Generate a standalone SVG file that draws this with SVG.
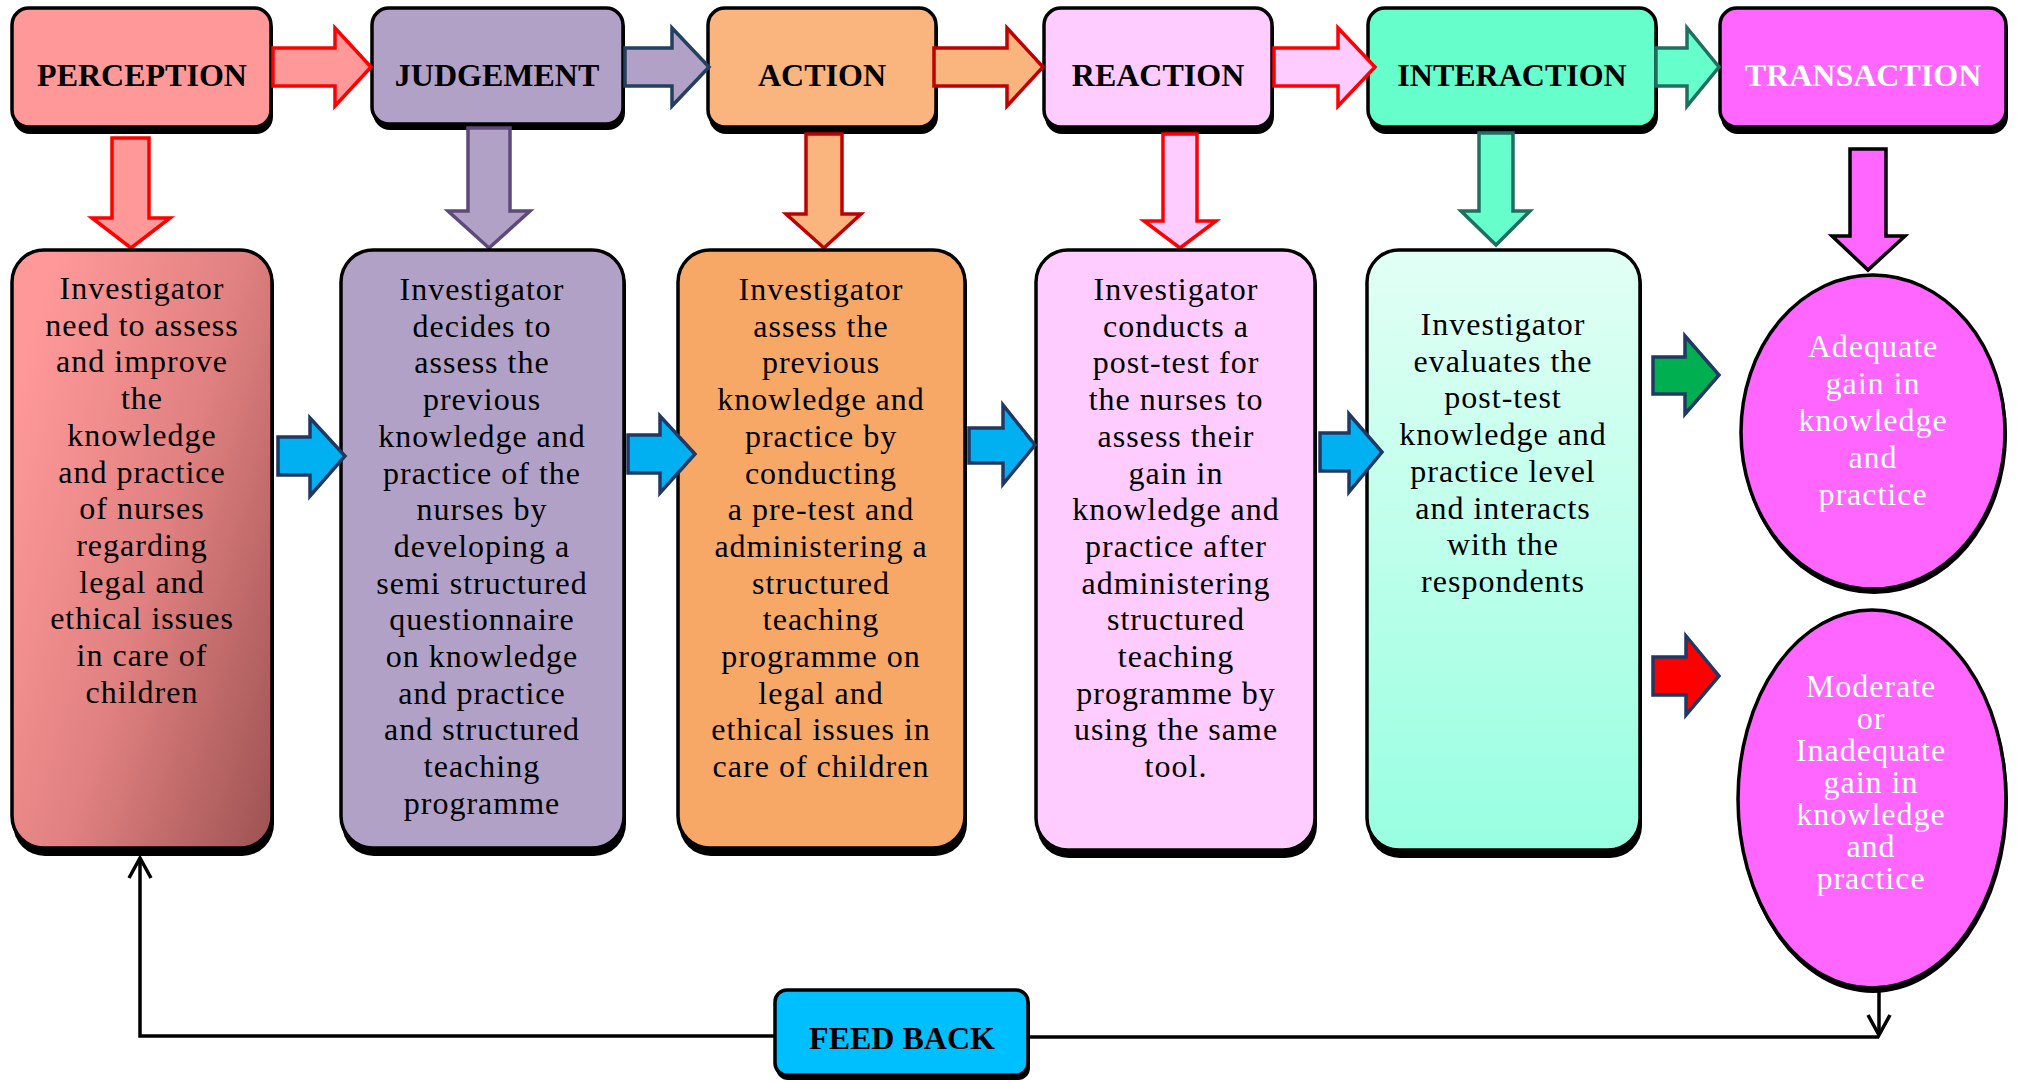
<svg xmlns="http://www.w3.org/2000/svg" width="2017" height="1082" viewBox="0 0 2017 1082">
<style>
.lbl{font-family:"Liberation Serif","Times New Roman",serif;font-weight:bold;font-size:32px;text-anchor:middle;fill:#000}
.body{font-family:"Liberation Serif","Times New Roman",serif;font-size:32px;letter-spacing:1px;text-anchor:middle;fill:#000}
.wt{fill:#fff}
.box{stroke:#000;stroke-width:3.5}
.shd{fill:#000}
.blue{fill:#00B0F0;stroke:#1F3864;stroke-width:3.5;stroke-linejoin:miter}
.conn{fill:none;stroke:#000;stroke-width:3.5}
</style>
<defs>
<linearGradient id="g1" x1="0" y1="0.25" x2="1" y2="0.95">
<stop offset="0" stop-color="#FF9999"/>
<stop offset="0.5" stop-color="#E08080"/>
<stop offset="1" stop-color="#A05454"/>
</linearGradient>
<linearGradient id="g5" x1="0" y1="0" x2="0" y2="1">
<stop offset="0" stop-color="#E2FFF5"/>
<stop offset="1" stop-color="#98FFE0"/>
</linearGradient>
<marker id="open" markerUnits="userSpaceOnUse" markerWidth="30" markerHeight="30" viewBox="0 0 30 30" refX="27" refY="15" orient="auto">
<path d="M7,4 L27,15 L7,26" fill="none" stroke="#000" stroke-width="3.5"/>
</marker>
</defs>

<g id="connectors">
<path class="conn" d="M775,1036 H140 V858" marker-end="url(#open)"/>
<path class="conn" d="M1029,1037 H1879"/>
<path class="conn" d="M1879,992 V1035" marker-end="url(#open)"/>
</g>

<g id="perception">
<rect class="shd" x="13" y="13" width="260" height="121" rx="17"/>
<rect class="box" x="12" y="8" width="259" height="119" rx="17" fill="#FF9999"/>
<text class="lbl" x="142" y="86">PERCEPTION</text>
</g>
<g id="judgement">
<rect class="shd" x="373" y="12" width="252" height="118" rx="17"/>
<rect class="box" x="372" y="8" width="251" height="116" rx="17" fill="#B2A1C7"/>
<text class="lbl" x="497" y="86">JUDGEMENT</text>
</g>
<g id="action">
<rect class="shd" x="709" y="13" width="229" height="121" rx="17"/>
<rect class="box" x="708" y="8" width="228" height="119" rx="17" fill="#F9B57D"/>
<text class="lbl" x="822" y="86">ACTION</text>
</g>
<g id="reaction">
<rect class="shd" x="1045" y="13" width="229" height="121" rx="17"/>
<rect class="box" x="1044" y="8" width="228" height="119" rx="17" fill="#FFCCFF"/>
<text class="lbl" x="1158" y="86">REACTION</text>
</g>
<g id="interaction">
<rect class="shd" x="1369" y="13" width="289" height="121" rx="17"/>
<rect class="box" x="1368" y="8" width="288" height="119" rx="17" fill="#66FFCC"/>
<text class="lbl" x="1512" y="86">INTERACTION</text>
</g>
<g id="transaction">
<rect class="shd" x="1721" y="13" width="287" height="121" rx="17"/>
<rect class="box" x="1720" y="8" width="286" height="119" rx="17" fill="#FF66FF"/>
<text class="lbl wt" x="1863" y="86">TRANSACTION</text>
</g>

<g id="top-arrows">
<polygon points="273,48 335,48 335,28 371,67 335,106 335,86 273,86" fill="#FF9999" stroke="#FF0000" stroke-width="3.5"/>
<polygon points="625,48 672,48 672,28 709,67 672,106 672,86 625,86" fill="#B2A1C7" stroke="#243F60" stroke-width="3.5"/>
<polygon points="934,48 1007,48 1007,28 1043,67 1007,106 1007,86 934,86" fill="#F9B57D" stroke="#C00000" stroke-width="3.5"/>
<polygon points="1274,48 1338,48 1338,28 1375,67 1338,106 1338,86 1274,86" fill="#FFCCFF" stroke="#FF0000" stroke-width="3.5"/>
<polygon points="1656,48 1687,48 1687,28 1719,67 1687,106 1687,86 1656,86" fill="#66FFCC" stroke="#1F7060" stroke-width="3.5"/>
</g>

<g id="down-arrows">
<polygon points="112,138 149,138 149,218 170,218 131,248 92,218 112,218" fill="#FF9999" stroke="#FF0000" stroke-width="3.5"/>
<polygon points="468,128 510,128 510,211 530,211 489,248 448,211 468,211" fill="#B2A1C7" stroke="#5F497A" stroke-width="3.5"/>
<polygon points="806,134 842,134 842,214 861,214 824,248 786,214 806,214" fill="#F9B57D" stroke="#C00000" stroke-width="3.5"/>
<polygon points="1163,134 1197,134 1197,221 1216,221 1180,248 1144,221 1163,221" fill="#FFCCFF" stroke="#FF0000" stroke-width="3.5"/>
<polygon points="1479,133 1513,133 1513,211 1530,211 1496,245 1461,211 1479,211" fill="#66FFCC" stroke="#1F7060" stroke-width="3.5"/>
<polygon points="1850,149 1886,149 1886,236 1905,236 1868,270 1832,236 1850,236" fill="#FF66FF" stroke="#000" stroke-width="3.5"/>
</g>

<g id="box1">
<rect class="shd" x="13" y="254" width="261" height="602" rx="32"/>
<rect class="box" x="12" y="250" width="260" height="598" rx="32" fill="url(#g1)"/>
<text class="body" x="142" y="299">Investigator</text>
<text class="body" x="142" y="335.7">need to assess</text>
<text class="body" x="142" y="372.4">and improve</text>
<text class="body" x="142" y="409.1">the</text>
<text class="body" x="142" y="445.8">knowledge</text>
<text class="body" x="142" y="482.5">and practice</text>
<text class="body" x="142" y="519.2">of nurses</text>
<text class="body" x="142" y="555.9">regarding</text>
<text class="body" x="142" y="592.6">legal and</text>
<text class="body" x="142" y="629.3">ethical issues</text>
<text class="body" x="142" y="666">in care of</text>
<text class="body" x="142" y="702.7">children</text>
</g>
<g id="box2">
<rect class="shd" x="342" y="254" width="284" height="602" rx="32"/>
<rect class="box" x="341" y="250" width="283" height="598" rx="32" fill="#B2A1C7"/>
<text class="body" x="482" y="300">Investigator</text>
<text class="body" x="482" y="336.7">decides to</text>
<text class="body" x="482" y="373.4">assess the</text>
<text class="body" x="482" y="410.1">previous</text>
<text class="body" x="482" y="446.8">knowledge and</text>
<text class="body" x="482" y="483.5">practice of the</text>
<text class="body" x="482" y="520.2">nurses by</text>
<text class="body" x="482" y="556.9">developing a</text>
<text class="body" x="482" y="593.6">semi structured</text>
<text class="body" x="482" y="630.3">questionnaire</text>
<text class="body" x="482" y="667">on knowledge</text>
<text class="body" x="482" y="703.7">and practice</text>
<text class="body" x="482" y="740.4">and structured</text>
<text class="body" x="482" y="777.1">teaching</text>
<text class="body" x="482" y="813.8">programme</text>
</g>
<g id="box3">
<rect class="shd" x="679" y="254" width="288" height="602" rx="32"/>
<rect class="box" x="678" y="250" width="287" height="598" rx="32" fill="#F7A866"/>
<text class="body" x="821" y="300">Investigator</text>
<text class="body" x="821" y="336.7">assess the</text>
<text class="body" x="821" y="373.4">previous</text>
<text class="body" x="821" y="410.1">knowledge and</text>
<text class="body" x="821" y="446.8">practice by</text>
<text class="body" x="821" y="483.5">conducting</text>
<text class="body" x="821" y="520.2">a pre-test and</text>
<text class="body" x="821" y="556.9">administering a</text>
<text class="body" x="821" y="593.6">structured</text>
<text class="body" x="821" y="630.3">teaching</text>
<text class="body" x="821" y="667">programme on</text>
<text class="body" x="821" y="703.7">legal and</text>
<text class="body" x="821" y="740.4">ethical issues in</text>
<text class="body" x="821" y="777.1">care of children</text>
</g>
<g id="box4">
<rect class="shd" x="1037" y="254" width="280" height="604" rx="32"/>
<rect class="box" x="1036" y="250" width="279" height="600" rx="32" fill="#FFCCFF"/>
<text class="body" x="1176" y="300">Investigator</text>
<text class="body" x="1176" y="336.7">conducts a</text>
<text class="body" x="1176" y="373.4">post-test for</text>
<text class="body" x="1176" y="410.1">the nurses to</text>
<text class="body" x="1176" y="446.8">assess their</text>
<text class="body" x="1176" y="483.5">gain in</text>
<text class="body" x="1176" y="520.2">knowledge and</text>
<text class="body" x="1176" y="556.9">practice after</text>
<text class="body" x="1176" y="593.6">administering</text>
<text class="body" x="1176" y="630.3">structured</text>
<text class="body" x="1176" y="667">teaching</text>
<text class="body" x="1176" y="703.7">programme by</text>
<text class="body" x="1176" y="740.4">using the same</text>
<text class="body" x="1176" y="777.1">tool.</text>
</g>
<g id="box5">
<rect class="shd" x="1368" y="254" width="274" height="604" rx="32"/>
<rect class="box" x="1367" y="250" width="273" height="600" rx="32" fill="url(#g5)"/>
<text class="body" x="1503" y="335">Investigator</text>
<text class="body" x="1503" y="371.7">evaluates the</text>
<text class="body" x="1503" y="408.4">post-test</text>
<text class="body" x="1503" y="445.1">knowledge and</text>
<text class="body" x="1503" y="481.8">practice level</text>
<text class="body" x="1503" y="518.5">and interacts</text>
<text class="body" x="1503" y="555.2">with the</text>
<text class="body" x="1503" y="591.9">respondents</text>
</g>

<g id="lower-arrows">
<polygon class="blue" points="278,437 310,437 310,418 345,456 310,496 310,475 278,475"/>
<polygon class="blue" points="628,435 660,435 660,416 695,454 660,493 660,473 628,473"/>
<polygon class="blue" points="969,428 1003,428 1003,405 1035,445 1003,484 1003,463 969,463"/>
<polygon class="blue" points="1320,433 1349,433 1349,414 1382,452 1349,492 1349,471 1320,471"/>
<polygon points="1653,357 1685,357 1685,336 1719,375 1685,414 1685,394 1653,394" fill="#00B050" stroke="#1F3864" stroke-width="3.5"/>
<polygon points="1653,657 1686,657 1686,636 1719,676 1686,715 1686,695 1653,695" fill="#FF0000" stroke="#1F3864" stroke-width="3.5"/>
</g>

<g id="adequate">
<ellipse class="shd" cx="1874" cy="435" rx="133" ry="159"/>
<ellipse class="box" cx="1873" cy="432" rx="132" ry="157" fill="#FF66FF"/>
<text class="body wt" x="1873" y="357">Adequate</text>
<text class="body wt" x="1873" y="394">gain in</text>
<text class="body wt" x="1873" y="431">knowledge</text>
<text class="body wt" x="1873" y="468">and</text>
<text class="body wt" x="1873" y="505">practice</text>
</g>
<g id="inadequate">
<ellipse class="shd" cx="1873" cy="802" rx="135" ry="191"/>
<ellipse class="box" cx="1872" cy="799" rx="134" ry="189" fill="#FF66FF"/>
<text class="body wt" x="1871" y="697">Moderate</text>
<text class="body wt" x="1871" y="729">or</text>
<text class="body wt" x="1871" y="761">Inadequate</text>
<text class="body wt" x="1871" y="793">gain in</text>
<text class="body wt" x="1871" y="825">knowledge</text>
<text class="body wt" x="1871" y="857">and</text>
<text class="body wt" x="1871" y="889">practice</text>
</g>

<g id="feedback">
<rect class="shd" x="776" y="993" width="254" height="87" rx="12"/>
<rect class="box" x="775" y="990" width="253" height="85" rx="12" fill="#00BFFF"/>
<text class="lbl" x="902" y="1049">FEED BACK</text>
</g>
</svg>
